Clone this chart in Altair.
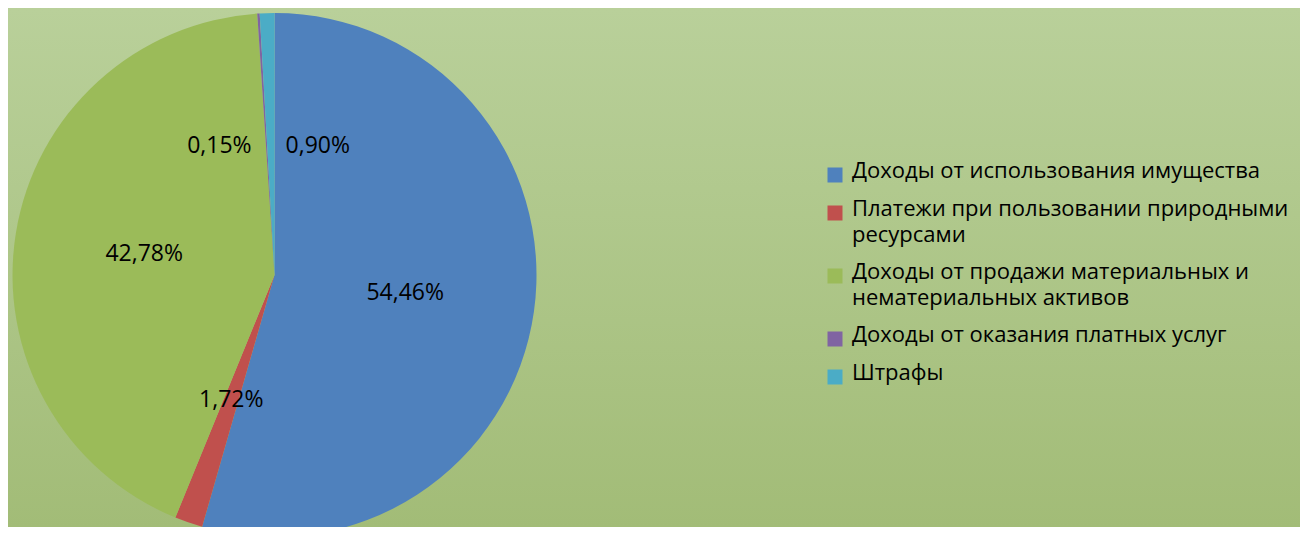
import altair as alt
import pandas as pd

categories = [
    "Доходы от использования имущества",
    "Платежи при пользовании природными ресурсами",
    "Доходы от продажи материальных и нематериальных активов",
    "Доходы от оказания платных услуг",
    "Штрафы",
]
values = [54.46, 1.72, 42.78, 0.15, 0.90]
colors = ["#4F81BD", "#C0504D", "#9BBB59", "#8064A2", "#4BACC6"]

df = pd.DataFrame({"cat": categories, "value": values, "idx": list(range(len(values)))})

W, H = 1292, 519
CX, CY = 266.5, 267
R = 262
FONT = "Open Sans"

base = alt.Chart(df)

bg = base.mark_rect(
    color=alt.LinearGradient(
        gradient="linear", x1=0, x2=0, y1=0, y2=1,
        stops=[alt.GradientStop(color="#B9D09A", offset=0),
               alt.GradientStop(color="#A2BC77", offset=1)],
    )
).encode(x=alt.value(0), x2=alt.value(W), y=alt.value(0), y2=alt.value(H))

legend_expr = (
    "datum.label == 'Платежи при пользовании природными ресурсами' ? "
    "['Платежи при пользовании природными', 'ресурсами'] : "
    "datum.label == 'Доходы от продажи материальных и нематериальных активов' ? "
    "['Доходы от продажи материальных и', 'нематериальных активов'] : datum.label"
)

pie = base.mark_arc(outerRadius=R, stroke=None).encode(
    theta=alt.Theta("value:Q", stack=True),
    order=alt.Order("idx:Q"),
    color=alt.Color(
        "cat:N",
        scale=alt.Scale(domain=categories, range=colors),
        legend=alt.Legend(
            title=None, orient="none", legendX=816, legendY=156,
            symbolType="square", symbolSize=225, symbolStrokeWidth=0,
            labelFont=FONT, labelFontSize=22, labelColor="#000000",
            labelOffset=6, rowPadding=15, labelLimit=600,
            labelExpr=legend_expr, labelBaseline="top", padding=0,
        ),
    ),
    x=alt.value(CX), y=alt.value(CY),
)

lbl = base.transform_window(
    cum="sum(value)", sort=[alt.SortField("idx")]
).transform_calculate(
    mid="datum.cum - datum.value / 2",
    txt="replace(format(datum.value, '.2f'), '.', ',') + '%'",
)

def text_layer(flt, dx=0, dy=0):
    return lbl.transform_filter(flt).mark_text(
        radius=132, font=FONT, fontSize=23, color="#000000",
        align="center", baseline="middle", dx=dx, dy=dy,
    ).encode(
        theta=alt.Theta("mid:Q"),
        text="txt:N",
        x=alt.value(CX), y=alt.value(CY),
    )

t_main = text_layer("datum.value > 1")
t_purple = text_layer("datum.idx == 3", dx=-47, dy=3)
t_cyan = text_layer("datum.idx == 4", dx=47, dy=3)

chart = alt.layer(bg, pie, t_main, t_purple, t_cyan).properties(
    width=W, height=H, padding=0,
    autosize=alt.AutoSizeParams(type="none"),
).configure_view(stroke=None).configure(
    background="#B9D09A",
    style={"guide-label": {"lineHeight": 26, "dy": -14}},
)

chart.save("out.html", embed_options={"renderer": "svg", "actions": False})
